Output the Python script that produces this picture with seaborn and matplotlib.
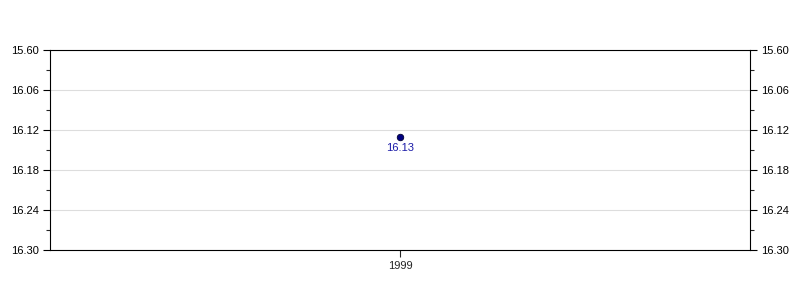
import matplotlib
matplotlib.use("Agg")
import matplotlib.pyplot as plt
import seaborn as sns
import pandas as pd
from matplotlib.ticker import FixedLocator, FixedFormatter

categories = ["1999"]
values = [16.13]
tick_values = [16.00, 16.06, 16.12, 16.18, 16.24, 16.30]
tick_labels = ["15.60", "16.06", "16.12", "16.18", "16.24", "16.30"]

sns.set_style("white")
plt.rcParams["font.family"] = ["Liberation Sans", "DejaVu Sans"]

df = pd.DataFrame({"year": categories, "value": values})

fig = plt.figure(figsize=(8, 3), dpi=100)
ax = fig.add_axes([0.0625, 1 - 250 / 300, 0.875, 200 / 300])

sns.scatterplot(data=df, x="year", y="value", ax=ax, color="#000080",
                edgecolor="#000033", linewidth=0.6, s=22, zorder=3)

for i, v in enumerate(values):
    ax.annotate(f"{v:.2f}", (i, v), xytext=(0, -8), textcoords="offset points",
                ha="center", va="center", color="#1a1aa8", fontsize=8)

ax.set_xlim(-1, 1)
ax.set_ylim(tick_values[-1], tick_values[0])
ax.yaxis.set_major_locator(FixedLocator(tick_values))
ax.yaxis.set_major_formatter(FixedFormatter(tick_labels))
ax.yaxis.set_minor_locator(FixedLocator([t + 0.03 for t in tick_values[:-1]]))
ax.grid(axis="y", which="major", color="#dddddd", linewidth=0.8)
ax.set_axisbelow(True)

ax.tick_params(axis="y", which="major", left=True, right=True, labelleft=True,
               labelright=True, length=5, width=0.8, direction="out",
               labelsize=8, colors="black", pad=3)
ax.tick_params(axis="y", which="minor", left=True, right=True, length=3,
               width=0.8, direction="out")
ax.tick_params(axis="x", which="major", bottom=True, length=5, width=0.8,
               direction="out", labelsize=8, pad=3)
ax.set_xlabel("")
ax.set_ylabel("")
for sp in ax.spines.values():
    sp.set_visible(True)
    sp.set_color("black")
    sp.set_linewidth(0.8)

fig.savefig("out.png", dpi=100)
